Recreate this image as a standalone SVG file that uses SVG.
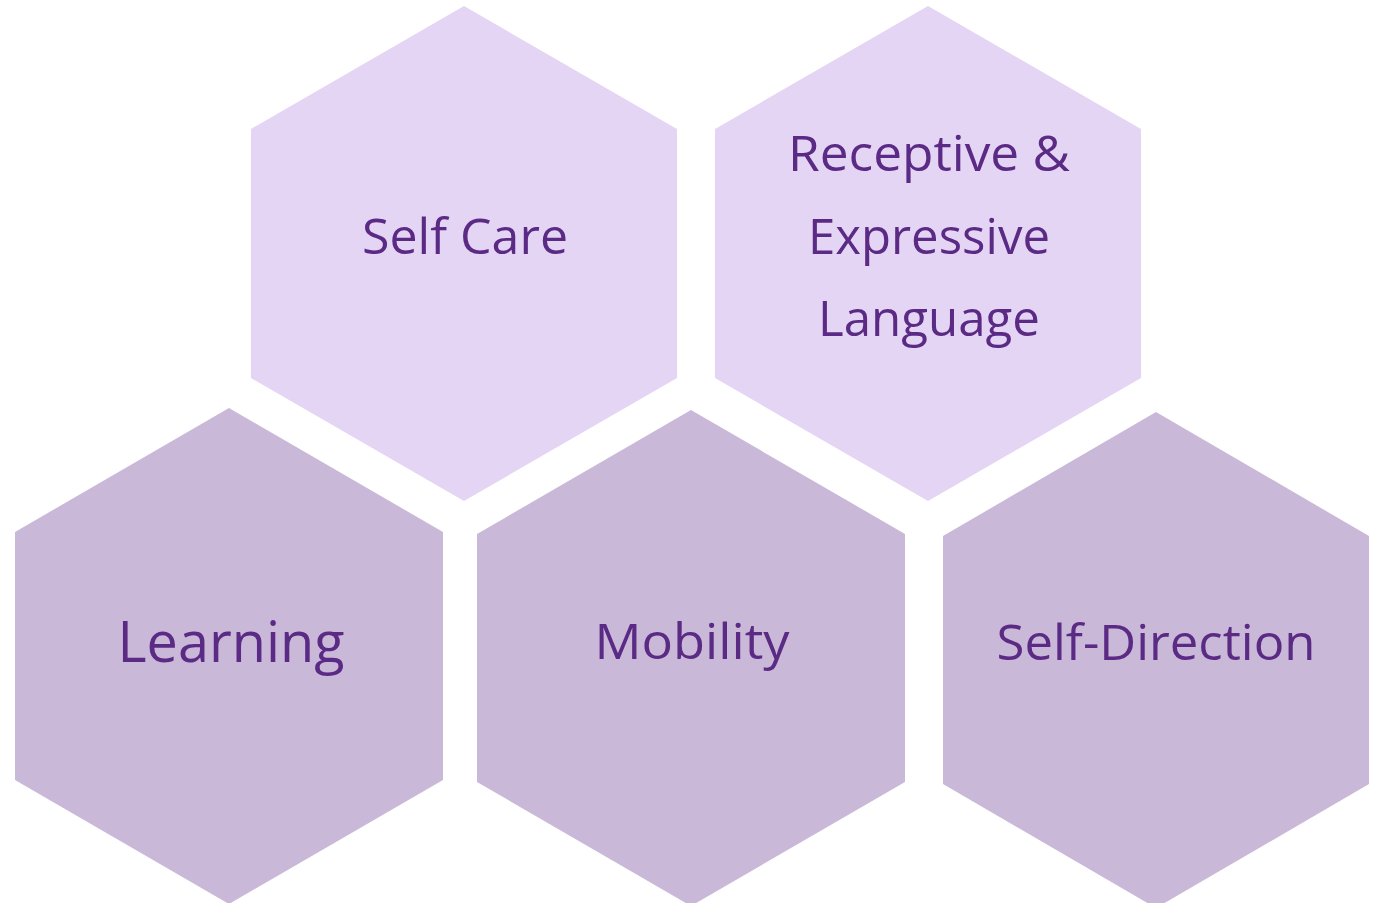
<svg xmlns="http://www.w3.org/2000/svg" width="1381" height="903" viewBox="0 0 1381 903">
<style>
.top{fill:#E5D5F4}
.bot{fill:#C9B8D8}
text{font-family:"Open Sans","Noto Sans",sans-serif;fill:#5A2A84;text-anchor:middle}
</style>
<rect width="1381" height="903" fill="#FFFFFF"/>
<g id="self-care">
<polygon class="top" points="464,6 677,129 677,378 464,501 251,378 251,129"/>
<text x="465" y="254" font-size="49" textLength="206" lengthAdjust="spacingAndGlyphs">Self Care</text>
</g>
<g id="receptive-expressive-language">
<polygon class="top" points="928,6 1141,129 1141,378 928,501 715,378 715,129"/>
<text x="929" y="171" font-size="49" textLength="282" lengthAdjust="spacingAndGlyphs">Receptive &amp;</text>
<text x="929" y="254" font-size="49" textLength="242" lengthAdjust="spacingAndGlyphs">Expressive</text>
<text x="929" y="336" font-size="49" textLength="222" lengthAdjust="spacingAndGlyphs">Language</text>
</g>
<g id="learning">
<polygon class="bot" points="229,408 443,532 443,780 229,904 15,780 15,532"/>
<text x="231" y="662" font-size="56" textLength="227" lengthAdjust="spacingAndGlyphs">Learning</text>
</g>
<g id="mobility">
<polygon class="bot" points="691,410 905,534 905,782 691,906 477,782 477,534"/>
<text x="692" y="659" font-size="49" textLength="195" lengthAdjust="spacingAndGlyphs">Mobility</text>
</g>
<g id="self-direction">
<polygon class="bot" points="1156,412 1369,536 1369,784 1156,908 943,784 943,536"/>
<text x="1156" y="660" font-size="49" textLength="319" lengthAdjust="spacingAndGlyphs">Self-Direction</text>
</g>
<g id="connectors"/>
</svg>
